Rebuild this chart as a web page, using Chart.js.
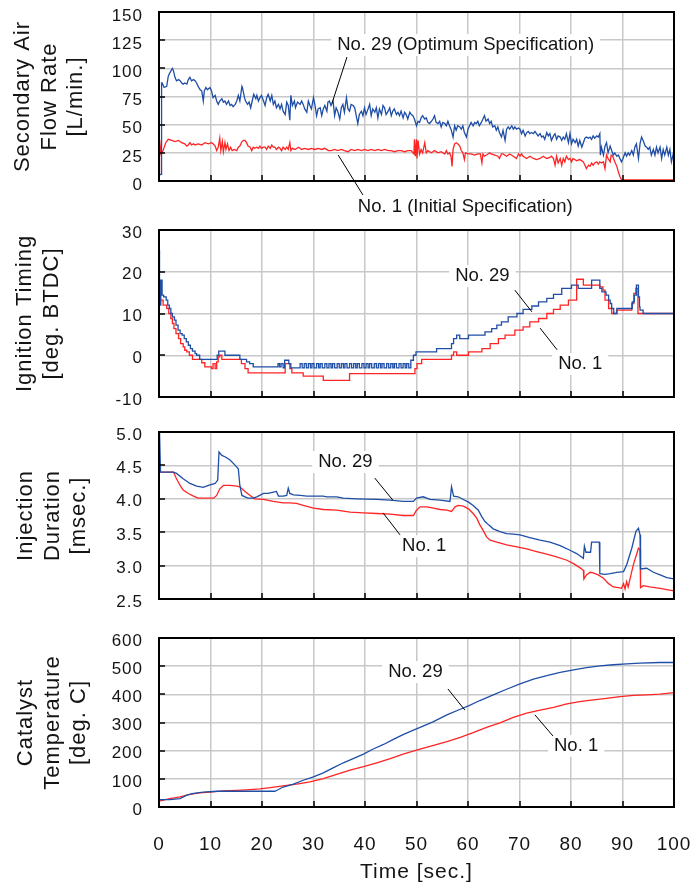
<!DOCTYPE html>
<html>
<head>
<meta charset="utf-8">
<script src="https://cdn.jsdelivr.net/npm/chart.js@4.4.1/dist/chart.umd.min.js"></script>
<style>
  body { margin: 0; background: #fff; width: 699px; height: 886px; position: relative; overflow: hidden; }
  canvas { position: absolute; left: 0; }
</style>
</head>
<body>
<canvas id="airChart" width="699" height="222" style="top:0px"></canvas>
<canvas id="ignChart" width="699" height="198" style="top:222px"></canvas>
<canvas id="injChart" width="699" height="205" style="top:420px"></canvas>
<canvas id="catChart" width="699" height="261" style="top:625px"></canvas>
<script>
// axis ranges: [min, max, step]
const timeRange = [0, 100, 10];
const airRange = [0, 150, 25];
const ignRange = [-10, 30, 10];
const injRange = [2.5, 5.0, 0.5];
const catRange = [0, 600, 100];

// secondary air flow rate [L/min], pairs of [time, value]
const airNo29 = [
  [0,5],[0.4,6],[0.5,87],[0.6,87],[1.0,83],[1.5,84],[1.8,93],[2.1,96],[2.6,100],[2.8,98],[3.1,92],[3.4,89],[3.8,90],[4.1,89],[4.4,87],[4.7,86],[5.0,87],[5.4,86],[5.7,90],[6.0,92],
  [6.3,89],[6.7,90],[7.0,89],[7.3,87],[7.6,84],[8.0,81],[8.3,80],[8.6,71],[8.8,80],[9.1,83],[9.4,81],[9.9,83],[10.2,80],[10.5,74],[10.9,76],[11.2,71],[11.5,68],[11.8,71],[12.2,73],[12.5,70],
  [12.8,71],[13.1,68],[13.5,71],[13.8,67],[14.1,68],[14.4,66],[14.8,68],[15.1,71],[15.4,76],[15.7,71],[16.1,84],[16.2,83],[16.6,74],[16.8,71],[17.2,68],[17.5,70],[17.8,65],[18.1,71],[18.4,77],[18.8,73],
  [19.0,76],[19.3,71],[19.6,74],[19.9,76],[20.3,71],[20.6,67],[20.9,74],[21.2,77],[21.6,71],[21.9,76],[22.2,68],[22.5,71],[22.8,65],[23.2,68],[23.5,64],[23.8,68],[24.1,62],[24.5,59],[24.8,70],[25.1,67],
  [25.4,54],[25.6,76],[25.9,67],[26.3,71],[26.5,65],[26.9,70],[27.4,68],[27.7,71],[28.0,68],[28.3,64],[28.7,61],[29.0,71],[29.3,67],[29.6,64],[30.0,74],[30.3,67],[30.6,58],[30.9,64],[31.3,65],[31.6,58],
  [31.9,64],[32.2,67],[32.6,62],
  [32.8,70],[33.1,71],[33.4,67],[33.8,71],[34.1,58],[34.4,65],[34.7,62],[35.1,55],[35.4,65],[35.7,68],
  [36.0,61],[36.4,74],[36.7,64],[37.0,62],[37.3,68],[37.7,67],[38.0,65],[38.3,58],[38.6,51],[38.9,59],
  [39.3,62],[39.6,58],[39.9,65],[40.2,59],[40.6,64],[40.9,68],[41.2,58],[41.5,64],[41.9,61],[42.2,65],
  [42.5,56],[42.8,64],[43.2,59],[43.5,67],[43.8,65],[44.1,59],[44.5,62],[44.8,65],[45.1,58],[45.4,62],
  [45.7,64],[46.1,59],[46.4,61],[46.7,58],[47.0,62],[47.4,56],[47.7,61],[48.0,59],[48.3,55],[48.7,61],
  [49.0,59],[49.3,58],[49.6,55],[50.0,49],[50.3,53],[50.6,52],[50.9,56],[51.2,58],[51.6,55],[51.9,56],
  [52.2,52],[52.5,51],[52.9,53],[53.2,55],[53.5,58],[53.8,52],[54.2,51],[54.5,53],[54.8,48],[55.1,52],
  [55.5,51],[55.8,49],[56.1,53],[56.4,49],[56.7,46],[57.1,39],[57.4,49],[57.7,45],[58.0,49],[58.4,48],
  [58.7,46],[59.0,49],[59.3,43],[59.7,39],[60.0,46],[60.3,49],[60.6,52],[61.0,49],[61.3,52],[61.6,51],
  [61.9,53],[62.2,49],[62.6,52],[62.9,55],[63.2,58],[63.5,53],[63.9,55],[64.2,51],[64.5,53],[64.8,48],
  [65.2,49],[65.5,45],[65.8,48],[66.1,43],[66.5,39],[66.8,45],
  [67.2,36],[67.5,46],[67.8,48],[68.1,46],[68.5,49],[68.8,46],[69.1,48],[69.4,46],[69.8,47],[70.1,46],
  [70.4,42],[70.7,45],[71.1,40],[71.4,43],[71.7,44],[72.0,42],[72.3,43],[72.7,42],[73.0,44],[73.3,42],
  [73.6,40],[74.0,42],[74.3,39],[74.6,40],[74.9,37],[75.3,43],[75.6,40],[75.9,42],[76.2,36],[76.6,40],
  [76.9,42],[77.2,37],[77.5,40],[77.9,39],[78.2,36],[78.5,39],[78.8,37],[79.1,42],[79.5,34],[79.8,42],
  [80.1,33],[80.4,37],[80.8,34],[81.1,37],[81.4,31],[81.7,36],[82.1,30],[82.4,34],[82.7,38],[83.0,39],
  [83.4,38],[83.7,39],[84.0,37],[84.3,40],[84.6,38],[85.0,40],[85.3,39],[85.6,42],[85.7,23],[85.9,30],
  [86.3,23],[86.6,31],[86.9,34],[87.2,25],[87.6,31],[87.9,27],[88.2,23],[88.5,25],[88.9,22],[89.2,23],
  [89.5,20],[89.8,17],[90.1,20],[90.5,25],[90.8,22],[91.1,25],[91.4,23],[91.8,27],[92.1,23],[92.4,30],
  [92.7,33],[93.1,20],[93.4,33],[93.7,39],[94.0,36],[94.4,31],[94.7,30],[95.0,28],[95.3,30],[95.6,23],
  [96.0,28],[96.3,23],[96.6,30],[96.9,25],[97.3,30],[97.6,20],[97.9,28],[98.2,23],[98.6,30],[98.9,23],
  [99.2,28],[99.5,17],[99.9,25],[100,28]
];
const airNo1 = [
  [0,6],[0.1,37],[0.4,24],[0.8,27],[1.3,34],[1.8,37],[2.5,36],[3.1,35],[3.8,36],[4.4,34],
  [5.0,33],[5.4,31],[5.7,32],[6.0,34],[6.3,32],[6.7,33],[7.0,32],[7.6,33],[8.3,32],[8.9,34],
  [9.6,33],[10.2,34],[10.5,33],[10.9,31],[11.2,27],[11.5,30],[11.8,38],[12.0,27],[12.3,35],[12.5,26],
  [12.8,34],[13.0,28],[13.3,33],[13.6,27],[13.9,30],[14.2,27],[14.6,28],[15.1,27],[15.4,30],[15.7,31],
  [16.1,35],[16.4,36],[16.7,36],[17.0,34],[17.3,31],[17.7,30],[18.0,27],[18.3,30],[18.6,29],[19.0,30],
  [19.3,29],[19.6,31],[19.9,29],[20.3,30],[20.6,30],[20.9,28],[21.2,31],[21.6,29],[21.9,32],[22.2,30],
  [22.5,30],[22.8,28],[23.2,30],[23.5,29],[23.8,27],[24.1,30],[24.5,28],[24.8,30],[25.1,28],[25.4,34],
  [25.6,27],[25.9,29],[26.4,28],[27.1,30],[27.7,28],[28.3,29],[29.0,28],[29.6,29],[30.3,28],[30.9,29],
  [31.6,28],[32.2,29],[32.9,27],
  [33.4,27],[34.1,28],[34.7,27],[35.4,28],[36.0,27],[36.7,26],[37.3,28],[38.0,27],[38.6,28],[39.3,27],
  [39.9,28],[40.6,27],[41.2,28],[41.9,27],[42.5,28],[43.2,27],[43.8,28],[44.5,27],[45.1,27],[45.7,26],
  [46.4,27],[47.0,27],[47.7,26],[48.3,27],[49.0,27],[49.5,24],[49.6,37],[49.8,22],[50.0,37],[50.1,20],
  [50.3,36],[50.6,24],[50.9,28],[51.2,25],[51.6,34],[51.9,25],[52.2,27],[52.9,25],[53.5,27],[54.2,25],
  [54.8,26],[55.5,24],[55.8,27],[56.1,24],[56.4,25],[56.7,22],[56.9,13],[57.1,28],[57.4,33],[57.7,34],
  [58.0,33],[58.4,31],[58.7,27],[59.0,25],[59.3,19],[59.5,25],[60.0,24],[60.6,24],[61.3,23],[61.9,24],
  [62.4,24],[62.7,16],[62.9,24],[63.2,22],[63.9,24],[64.2,25],[64.5,24],[65.2,23],[65.8,22],[66.1,20],
  [66.5,24],
  [66.8,24],[67.5,22],[68.1,24],[68.8,22],[69.4,20],[69.8,24],[70.1,22],[70.4,24],[70.7,22],[71.4,20],
  [72.0,22],[72.7,20],[73.3,19],[74.0,20],[74.6,22],[75.3,20],[75.9,21],[76.2,22],[76.6,20],[76.9,14],
  [77.2,22],[77.5,16],[77.9,20],[78.2,14],[78.5,20],[78.8,17],[79.1,22],[79.5,19],[79.8,20],[80.1,17],
  [80.4,20],[81.1,18],[81.7,19],[82.4,17],[82.7,14],[83.0,11],[83.4,14],[83.7,13],[84.0,16],[84.3,14],
  [84.6,16],[85.0,17],[85.3,15],[85.6,17],[85.9,16],[86.3,17],[86.6,11],[86.9,23],[87.2,20],[87.6,17],
  [87.8,23],[88.1,22],[88.5,17],[88.9,13],[89.2,8],[89.5,4],[89.8,1],[92.0,1],[100,1]
];

// ignition timing [deg. BTDC], step changes
const ignNo29 = [
  [0,10],[0.1,25],[0.35,12],[0.6,18],[0.9,14.4],[1.4,14],[1.7,13.2],[2.0,12],[2.3,11.2],[2.6,10],
  [3.0,9.2],[3.3,8.4],[3.7,7.2],[4.1,6],[4.5,5.2],[4.9,4.8],[5.3,4],[5.7,3.2],[6.1,2.4],[6.5,1.6],
  [7.0,1],[7.3,0.4],[7.9,0],[11.3,-1],[11.6,0],[12.8,1],[15.7,0],[17.0,-1],[17.6,-1.6],[18.3,-2],
  [23.1,-2.8],[23.4,-2],[23.7,-2.8],[24.1,-2],[24.4,-3],[25.2,-1.2],[25.6,-2],[27.4,-3],[27.8,-2],
  [28.2,-3],[28.6,-2],[29.0,-3],[29.4,-2],[29.7,-3],[30.1,-2],[30.6,-3],[31.0,-2],[31.3,-3],[31.7,-2],
  [32.2,-3],[32.6,-2],[33.0,-3],[33.4,-2],[33.7,-3],[34.1,-2],[34.6,-3],[35.0,-2],[35.4,-3],[35.8,-2],
  [36.1,-3],[36.5,-2],[37.0,-3],[37.4,-2],[37.8,-3],[38.2,-2],[38.5,-3],[38.9,-2],[39.4,-3],[39.8,-2],
  [40.2,-3],[40.6,-2],[40.9,-3],[41.3,-2],[41.8,-3],[42.2,-2],[42.6,-3],[43.0,-2],[43.3,-3],[43.7,-2],
  [44.2,-3],[44.6,-2],[45.0,-3],[45.4,-2],[45.7,-3],[46.1,-2],[46.6,-3],[47.0,-2],[47.4,-3],[47.8,-2],
  [48.1,-3],[48.5,-2],[48.9,-3],[49.4,-1.2],[49.9,0],[53.9,0.8],[56.8,1.6],[57.2,2.8],[57.8,4],[58.4,4.8],
  [60.1,4],[63.3,4.8],[64.6,5.6],[65.6,6.4],[66.5,7.2],[67.8,8],[69.5,9.2],[70.7,10],[72.4,11],[73.7,11.8],
  [75.3,12.8],[76.6,13.6],[78.2,14.6],[80.1,16],[81.4,16.8],[84.0,16],[85.6,18],[86.0,16],[86.8,15.2],[87.3,14.4],
  [87.6,13.2],[87.9,12.4],[88.3,11.2],[88.9,10],[91.9,11.2],[92.3,12.8],[92.7,14.4],[93.1,16.8],[93.3,14],[93.4,11.6],
  [94.0,10.8],[94.4,10],[100,10]
];
const ignNo1 = [
  [0,10],[0.05,25],[0.2,14.4],[0.8,13.2],[1.5,12],[1.9,11.2],[2.3,10],[2.6,8.8],[2.9,7.6],[3.3,6.4],
  [3.8,5.2],[4.2,4],[4.7,2.8],[5.0,2],[5.4,1.2],[5.9,0.8],[6.5,0],[8.3,-1],[8.9,-1.8],[10.2,-2.8],
  [10.5,-3.2],[10.9,-2],[11.2,-3.2],[11.5,-1.6],[11.8,-0.4],[12.2,0],[16.0,-1],[16.7,-2],[17.3,-3.2],[24.5,-4.2],
  [25.4,-2],[25.8,-3.2],[28.0,-4.2],[31.9,-5],[37.0,-6],[49.7,-4.4],[50.1,-3.2],[51.0,-2],[56.8,-1],[57.2,0],
  [57.8,0.8],[60.1,0],[62.7,0.8],[64.3,1.6],[65.9,2.8],[67.2,4],[69.1,4.8],[70.7,6],[72.0,6.8],[73.7,8],
  [75.3,8.8],[76.6,10],[77.9,11],[79.5,12],[81.1,13.2],[82.4,18.2],[85.6,16.8],[86.2,16.4],[86.6,15.6],[87.3,13.2],
  [87.9,11.2],[88.9,10],[91.8,10.8],[92.2,12.4],[92.6,14.8],[93.0,16],[93.3,10],[100,10]
];

// injection duration [msec.]
const injNo29 = [
  [0,5.3],[0.3,4.4],[2.8,4.4],[3.4,4.38],[4.7,4.30],[6.0,4.23],[7.3,4.19],[8.6,4.17],[9.6,4.2],[10.9,4.23],
  [11.4,4.28],[11.65,4.70],[12.2,4.65],[12.8,4.63],[13.8,4.58],[14.8,4.5],[15.4,4.45],[15.7,4.2],[16.1,4.05],[16.7,4.03],
  [17.3,4.01],[18.3,4.01],[19.0,4.03],[20.3,4.08],[21.2,4.08],[22.2,4.1],[22.8,4.11],[23.2,4.04],[24.1,4.04],[24.8,4.05],
  [25.1,4.16],[25.4,4.08],[26.1,4.06],[27.4,4.05],[28.7,4.04],[31.9,4.04],[32.6,4.03],[34.5,4.03],[35.8,4.01],[38.4,4.0],
  [42.3,3.99],[44.9,3.98],[47.4,3.96],[49.4,3.96],[50.0,4.01],[51.3,4.03],[52.6,3.99],[54.6,3.98],[56.5,3.96],[56.8,4.18],
  [57.2,4.04],[58.1,4.03],[59.1,3.99],[60.1,3.95],[61.0,3.9],[62.0,3.83],[62.7,3.73],[63.3,3.66],[64.0,3.61],[64.9,3.55],
  [66.2,3.51],[67.5,3.48],[68.8,3.47],[70.1,3.46],[72.0,3.42],[74.0,3.38],[75.9,3.35],[77.9,3.30],[79.8,3.23],[81.1,3.18],
  [82.4,3.11],[82.6,3.29],[82.9,3.2],[83.8,3.2],[84.0,3.35],[85.5,3.35],[85.6,2.88],[86.6,2.87],[87.6,2.88],[88.9,2.90],
  [90.2,2.91],[90.8,3.01],[91.8,3.26],[92.6,3.51],[93.1,3.56],[93.4,3.46],[93.5,2.95],[94.7,2.96],[96.0,2.9],[97.3,2.86],
  [98.6,2.82],[100,2.80]
];
const injNo1 = [
  [0,4.4],[2.8,4.4],[3.4,4.3],[4.1,4.2],[4.7,4.13],[5.7,4.08],[6.7,4.04],[7.6,4.01],[10.6,4.01],[11.2,4.05],
  [11.8,4.15],[12.5,4.2],[13.8,4.2],[15.1,4.19],[15.7,4.18],[16.7,4.11],[17.7,4.05],[18.6,4.0],[20.3,3.99],[22.2,3.96],
  [24.1,3.94],[25.4,3.94],[26.7,3.93],[28.0,3.9],[30.0,3.86],[31.9,3.84],[34.5,3.83],[37.1,3.80],[39.7,3.79],[42.3,3.78],
  [44.9,3.77],[47.4,3.75],[49.4,3.75],[50.0,3.83],[50.7,3.88],[52.0,3.88],[53.3,3.86],[54.6,3.84],[55.9,3.83],[56.8,3.81],
  [57.5,3.88],[58.1,3.9],[59.1,3.89],[60.1,3.85],[61.0,3.78],[61.7,3.71],[62.3,3.61],[63.0,3.52],[63.6,3.43],[64.3,3.38],
  [65.6,3.35],[67.5,3.31],[69.5,3.28],[71.4,3.25],[73.3,3.21],[75.3,3.17],[77.2,3.13],[79.2,3.08],[80.5,3.03],[81.7,2.97],
  [82.4,2.93],[82.5,2.80],[83.0,2.86],[83.7,2.9],[84.3,2.89],[85.3,2.86],[86.3,2.81],[87.3,2.73],[88.2,2.68],[89.2,2.67],
  [89.8,2.66],[90.2,2.73],[90.5,2.65],[90.8,2.76],[91.1,2.68],[92.1,3.01],[93.1,3.26],[93.4,3.24],[93.5,2.67],[94.0,2.70],
  [95.3,2.68],[97.3,2.66],[98.6,2.64],[100,2.62]
];

// catalyst temperature [deg. C]
const catNo29 = [
  [0,26],[2.1,26],[4.1,30],[5.4,42],[6.7,48],[8.6,53],[11.2,56],[22.5,56],[23.2,62],[24.1,71],
  [26.1,81],[28.0,95],[30.0,107],[31.9,121],[33.9,140],[35.8,157],[37.7,172],[39.7,188],[41.6,206],[43.6,222],
  [45.5,240],[47.4,257],[49.4,273],[50.7,283],[53.3,303],[55.9,327],[58.5,347],[60.1,359],[62.3,378],[64.9,398],
  [67.5,418],[70.1,437],[72.7,454],[75.3,466],[77.9,478],[80.5,487],[83.0,495],[85.6,501],[88.2,505],[90.8,508],
  [93.4,511],[97.3,513],[100,513]
];
const catNo1 = [
  [0,21],[2.1,30],[4.1,36],[6.0,45],[7.9,50],[9.9,53],[12.5,57],[15.1,59],[17.7,62],[19.6,64],
  [21.6,69],[24.1,75],[26.7,81],[29.3,89],[31.9,101],[34.5,116],[37.1,131],[39.7,143],[42.3,157],[44.9,172],
  [47.4,188],[50.0,202],[52.6,215],[55.9,232],[58.5,247],[61.0,264],[63.6,283],[66.2,299],[68.8,318],[71.4,333],
  [74.0,344],[76.6,354],[79.2,366],[81.7,374],[84.3,380],[86.9,386],[89.5,392],[92.1,396],[94.7,398],[97.3,401],
  [100,406]
];

const FONT = "'Liberation Sans', Arial, sans-serif";
const BLUE = '#1f4ea6';
const RED = '#ff2424';
const GRID = '#c8c8c8';
const TXT = '#141414';

// black frame, inward tick marks and the "No. xx" callouts
function frame(notes) {
  return {
    id: 'frame',
    beforeDraw(chart) {
      chart.ctx.letterSpacing = '1px';
    },
    afterDatasetsDraw(chart) {
      const { ctx, chartArea: a, scales: { x, y } } = chart;
      ctx.save();
      ctx.letterSpacing = '0px';
      ctx.strokeStyle = '#000';
      ctx.lineWidth = 1.5;
      ctx.beginPath();
      x.ticks.forEach(t => {
        const px = Math.round(x.getPixelForValue(t.value));
        ctx.moveTo(px, a.bottom);
        ctx.lineTo(px, a.bottom - 6);
      });
      y.ticks.forEach(t => {
        const py = Math.round(y.getPixelForValue(t.value));
        ctx.moveTo(a.left, py);
        ctx.lineTo(a.left + 6, py);
      });
      ctx.stroke();
      ctx.lineWidth = 2;
      ctx.strokeRect(a.left, a.top, a.right - a.left, a.bottom - a.top);

      ctx.font = '18.5px ' + FONT;
      ctx.textBaseline = 'middle';
      ctx.textAlign = 'left';
      notes.forEach(n => {
        const tx = x.getPixelForValue(n.at[0]);
        const ty = y.getPixelForValue(n.at[1]);
        const w = ctx.measureText(n.text).width;
        ctx.fillStyle = '#fff';
        ctx.fillRect(tx - 6, ty - 11, w + 12, 22);
        ctx.fillStyle = TXT;
        ctx.fillText(n.text, tx, ty);
        ctx.beginPath();
        ctx.lineWidth = 1;
        ctx.strokeStyle = '#000';
        ctx.moveTo(x.getPixelForValue(n.from[0]), y.getPixelForValue(n.from[1]));
        ctx.lineTo(x.getPixelForValue(n.to[0]), y.getPixelForValue(n.to[1]));
        ctx.stroke();
      });
      ctx.restore();
    }
  };
}

function makePanel(id, p) {
  const last = !!p.showTime;
  new Chart(document.getElementById(id), {
    type: 'line',
    data: {
      datasets: [
        { data: p.no29, borderColor: BLUE, stepped: p.stepped || false },
        { data: p.no1, borderColor: RED, stepped: p.stepped || false }
      ]
    },
    options: {
      responsive: false,
      animation: false,
      events: [],
      layout: { padding: { top: p.padTop, bottom: p.padBottom, left: 0, right: 25 } },
      elements: { point: { radius: 0 }, line: { borderWidth: 1.3, tension: 0 } },
      plugins: { legend: { display: false }, tooltip: { enabled: false } },
      scales: {
        x: {
          type: 'linear',
          min: timeRange[0],
          max: timeRange[1],
          ticks: { stepSize: timeRange[2], display: last, padding: 26, color: TXT, font: { family: FONT, size: 19 } },
          grid: { color: GRID, lineWidth: 1.5, drawTicks: false },
          border: { display: false },
          title: { display: last, text: 'Time [sec.]', color: TXT, font: { family: FONT, size: 21 }, padding: { top: 0, bottom: 1 } },
          afterFit(s) {
            s.height = last ? 79 : 0;
            s.paddingLeft = 0;
            s.paddingRight = 0;
          }
        },
        y: {
          min: p.range[0],
          max: p.range[1],
          ticks: {
            stepSize: p.range[2],
            padding: 16,
            labelOffset: p.labelOffset,
            color: TXT,
            font: { family: FONT, size: 17 },
            callback: v => p.decimals ? v.toFixed(p.decimals) : String(v)
          },
          grid: { color: GRID, lineWidth: 1.5, drawTicks: false },
          border: { display: false },
          title: {
            display: true,
            text: p.title,
            color: TXT,
            font: { family: FONT, size: 22, lineHeight: 1.2 },
            padding: { top: p.titlePad, bottom: 0 }
          },
          afterFit(s) {
            s.width = 159;
            s.paddingTop = 0;
            s.paddingBottom = 0;
          }
        }
      }
    },
    plugins: [frame(p.notes)]
  });
}

makePanel('airChart', {
  no29: airNo29, no1: airNo1, range: airRange,
  title: ['Secondary Air', 'Flow Rate', '[L/min.]'], titlePad: 10,
  padTop: 12, padBottom: 41, labelOffset: 4,
  notes: [
    { text: 'No. 29 (Optimum Specification)', at: [34.6, 120.7], from: [36.5, 110], to: [33.6, 69.2] },
    { text: 'No. 1 (Initial Specification)', at: [38.6, -23], from: [34.8, 23], to: [39.6, -12.4] }
  ]
});

makePanel('ignChart', {
  no29: ignNo29, no1: ignNo1, range: ignRange, stepped: 'after',
  title: ['Ignition Timing', '[deg. BTDC]'], titlePad: 12,
  padTop: 8, padBottom: 23, labelOffset: 3,
  notes: [
    { text: 'No. 29', at: [57.5, 19], from: [69.1, 15.6], to: [72.4, 10.4] },
    { text: 'No. 1', at: [77.5, -2.1], from: [74, 6.5], to: [77.3, 1.3] }
  ]
});

makePanel('injChart', {
  no29: injNo29, no1: injNo1, range: injRange, decimals: 1,
  title: ['Injection', 'Duration', '[msec.]'], titlePad: 13,
  padTop: 12, padBottom: 26, labelOffset: 3,
  notes: [
    { text: 'No. 29', at: [30.9, 4.55], from: [41.9, 4.31], to: [45.4, 3.98] },
    { text: 'No. 1', at: [47.2, 3.29], from: [43.5, 3.79], to: [46.8, 3.46] }
  ]
});

makePanel('catChart', {
  no29: catNo29, no1: catNo1, range: catRange,
  title: ['Catalyst', 'Temperature', '[deg. C]'], titlePad: 13,
  padTop: 13, padBottom: 0, labelOffset: 3, showTime: true,
  notes: [
    { text: 'No. 29', at: [44.5, 479], from: [56.1, 419], to: [59.4, 344] },
    { text: 'No. 1', at: [76.7, 217], from: [73.0, 327], to: [76.5, 252] }
  ]
});
</script>
</body>
</html>
